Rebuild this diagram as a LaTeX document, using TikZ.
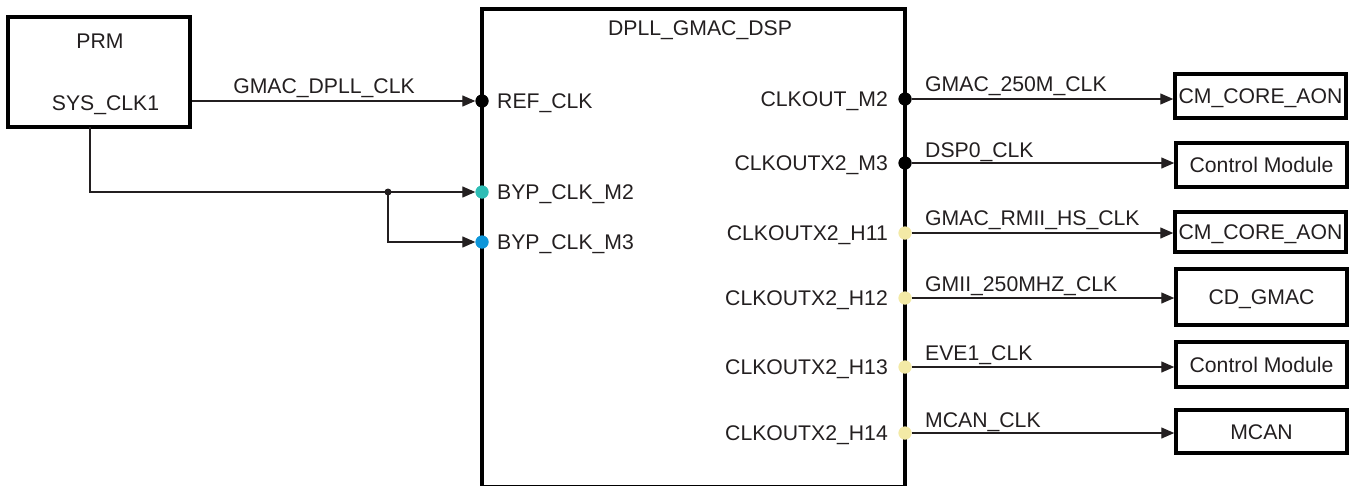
\documentclass[tikz,border=0pt]{standalone}
\usepackage{fontspec}
\setmainfont{Liberation Sans}
\usetikzlibrary{arrows.meta}
\definecolor{ink}{HTML}{231F20}
\definecolor{pinteal}{HTML}{2EBDB5}
\definecolor{pinblue}{HTML}{0E96DA}
\definecolor{pinyellow}{HTML}{F3EAA6}
\tikzset{
  lbl/.style={inner sep=0pt, text height=15pt, text depth=0pt, font=\fontsize{21.2}{25}\selectfont, text=ink},
  blk/.style={draw=black, line width=4pt},
  obox/.style={lbl, draw=black, line width=3.5pt, minimum width=171pt},
  wire/.style={draw=ink, line width=1.3pt},
  arr/.style={wire, -{Triangle[length=13pt,width=11pt]}},
  pin/.style={circle, inner sep=0pt, minimum size=13pt},
}
\begin{document}
\begin{tikzpicture}[x=1pt,y=-1pt]
\useasboundingbox (0,0) rectangle (1351,485);
\clip (0,0) rectangle (1351,485);
% blocks
\node[blk, minimum width=182pt, minimum height=110pt] (prm) at (99,72) {};
\node[lbl] (prmt) at (100,41) {PRM};
\node[lbl] (sys) at (105.5,103) {SYS\_CLK1};
\node[blk, minimum width=423pt, minimum height=478pt] (dpll) at (693.5,248) {};
\node[lbl] (dpllt) at (700,28) {DPLL\_GMAC\_DSP};
% output boxes
\node[obox, minimum height=44pt] (o1) at (1260.5,96) {CM\_CORE\_AON};
\node[obox, minimum height=44pt] (o2) at (1261.5,165) {Control Module};
\node[obox, minimum height=40pt] (o3) at (1260.5,232) {CM\_CORE\_AON};
\node[obox, minimum height=56pt] (o4) at (1261.5,297) {CD\_GMAC};
\node[obox, minimum height=45pt] (o5) at (1261.5,364.5) {Control Module};
\node[obox, minimum height=43pt] (o6) at (1261.5,431.5) {MCAN};
% input pins
\node[pin, fill=black] (pref) at (482,101) {};
\node[pin, fill=pinteal] (pb2) at (482,192) {};
\node[pin, fill=pinblue] (pb3) at (482,242) {};
\node[lbl, anchor=west] (lref) at (497,101) {REF\_CLK};
\node[lbl, anchor=west] (lb2) at (497,192) {BYP\_CLK\_M2};
\node[lbl, anchor=west] (lb3) at (497,242) {BYP\_CLK\_M3};
% output pins
\node[pin, fill=black] (pm2) at (905,99) {};
\node[pin, fill=black] (pm3) at (905,163) {};
\node[pin, fill=pinyellow] (ph11) at (905,233) {};
\node[pin, fill=pinyellow] (ph12) at (905,298) {};
\node[pin, fill=pinyellow] (ph13) at (905,367) {};
\node[pin, fill=pinyellow] (ph14) at (905,433) {};
\node[lbl, anchor=east] (lm2) at (888,99) {CLKOUT\_M2};
\node[lbl, anchor=east] (lm3) at (888,163) {CLKOUTX2\_M3};
\node[lbl, anchor=east] (lh11) at (888,233) {CLKOUTX2\_H11};
\node[lbl, anchor=east] (lh12) at (888,298) {CLKOUTX2\_H12};
\node[lbl, anchor=east] (lh13) at (888,367) {CLKOUTX2\_H13};
\node[lbl, anchor=east] (lh14) at (888,433) {CLKOUTX2\_H14};
% input wires
\coordinate (tap) at (90,127);
\node[circle, fill=ink, inner sep=0pt, minimum size=7pt] (j) at (388,192) {};
\draw[arr] (prm.east |- pref) -- (pref.west);
\node[lbl] (wref) at (324,86) {GMAC\_DPLL\_CLK};
\draw[arr] (tap) |- (pb2.west);
\draw[arr] (j.center) |- (pb3.west);
% output wires
\draw[arr] (pm2) -- (pm2 -| o1.west);
\draw[arr] (pm3) -- (pm3 -| o2.west);
\draw[arr] (ph11) -- (ph11 -| o3.west);
\draw[arr] (ph12) -- (ph12 -| o4.west);
\draw[arr] (ph13) -- (ph13 -| o5.west);
\draw[arr] (ph14) -- (ph14 -| o6.west);
\node[lbl, anchor=west] at (925,84) {GMAC\_250M\_CLK};
\node[lbl, anchor=west] at (925,150) {DSP0\_CLK};
\node[lbl, anchor=west] at (925,218) {GMAC\_RMII\_HS\_CLK};
\node[lbl, anchor=west] at (925,284) {GMII\_250MHZ\_CLK};
\node[lbl, anchor=west] at (925,353) {EVE1\_CLK};
\node[lbl, anchor=west] at (925,420) {MCAN\_CLK};
% redraw pins on top
\foreach \p/\c in {pref/black,pb2/pinteal,pb3/pinblue,pm2/black,pm3/black,ph11/pinyellow,ph12/pinyellow,ph13/pinyellow,ph14/pinyellow}
  \fill[\c] (\p) circle (6.5pt);
\end{tikzpicture}
\end{document}
